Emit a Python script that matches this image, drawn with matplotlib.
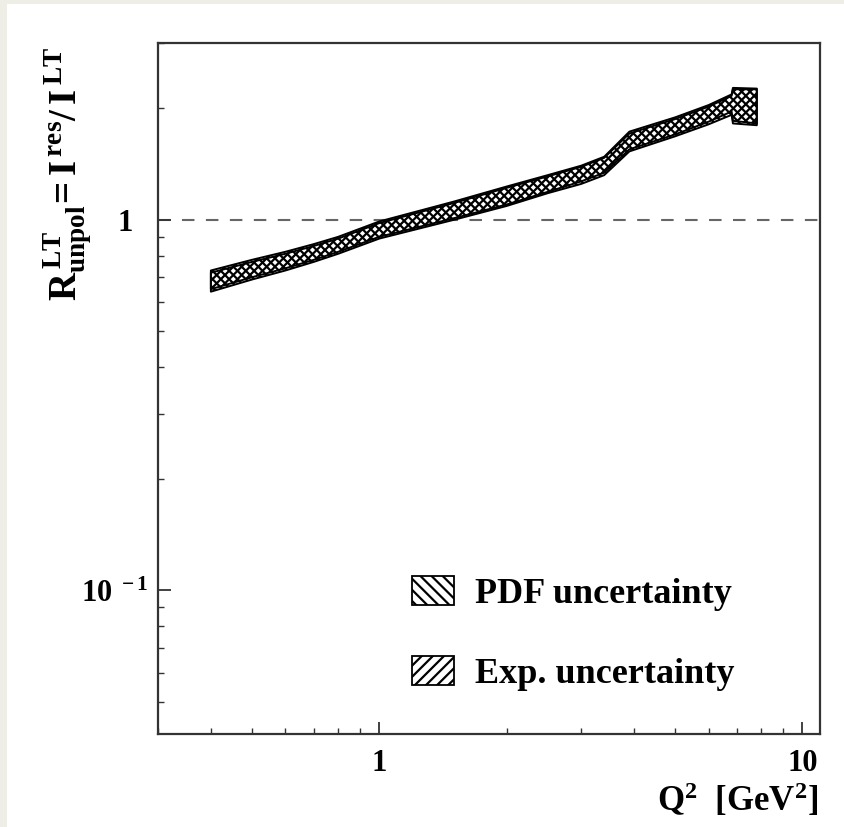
import matplotlib
matplotlib.use("Agg")
import matplotlib.pyplot as plt
from matplotlib.patches import Patch, Rectangle
from matplotlib.ticker import LogLocator, NullFormatter, FixedLocator, FixedFormatter

# data
q2 = [0.4, 0.5, 0.6, 0.7, 0.8, 1.0, 1.5, 2.0, 2.5, 3.0, 3.4, 3.9, 5.0, 6.0, 6.8, 6.85, 7.8]
pdf_lo = [0.64, 0.69, 0.73, 0.77, 0.81, 0.89, 1.00, 1.09, 1.18, 1.25, 1.32, 1.53, 1.68, 1.81, 1.92, 1.82, 1.80]
pdf_hi = [0.72, 0.77, 0.81, 0.85, 0.89, 0.98, 1.11, 1.22, 1.31, 1.39, 1.47, 1.71, 1.87, 2.02, 2.16, 2.25, 2.25]
exp_lo = [0.65, 0.70, 0.74, 0.78, 0.82, 0.90, 1.01, 1.10, 1.19, 1.27, 1.34, 1.55, 1.70, 1.84, 1.96, 1.85, 1.82]
exp_hi = [0.73, 0.78, 0.82, 0.86, 0.90, 0.99, 1.12, 1.23, 1.32, 1.40, 1.48, 1.73, 1.89, 2.04, 2.18, 2.27, 2.26]
labels = ["PDF uncertainty", "Exp. uncertainty"]

plt.rcParams["font.family"] = "Liberation Serif"
plt.rcParams["font.weight"] = "bold"
plt.rcParams["mathtext.fontset"] = "custom"
plt.rcParams["mathtext.rm"] = "Liberation Serif:bold"
plt.rcParams["mathtext.it"] = "Liberation Serif:bold"
plt.rcParams["mathtext.bf"] = "Liberation Serif:bold"
plt.rcParams["hatch.linewidth"] = 1.6

fig = plt.figure(figsize=(8.45, 8.27), dpi=100, facecolor="#efeee6")
fig.add_artist(Rectangle((7 / 845, 0), 1, 1 - 4 / 827, transform=fig.transFigure,
                         facecolor="white", edgecolor="none", zorder=-10))
ax = fig.add_axes([158 / 845, 1 - 734 / 827, 662 / 845, 691 / 827])
ax.set_xscale("log")
ax.set_yscale("log")
ax.set_xlim(0.3, 11)
ax.set_ylim(0.041, 3.0)

ax.axhline(1.0, color="#666666", lw=1.5, ls=(0, (6, 5.5)), zorder=1)

ax.fill_between(q2, pdf_lo, pdf_hi, facecolor="white", edgecolor="black",
                hatch="\\\\\\\\", lw=1.4, zorder=2)
ax.fill_between(q2, exp_lo, exp_hi, facecolor="none", edgecolor="black",
                hatch="////", lw=1.4, zorder=3)

for sp in ax.spines.values():
    sp.set_linewidth(1.6)
    sp.set_color("#333333")

ax.xaxis.set_major_locator(FixedLocator([1, 10]))
ax.xaxis.set_major_formatter(FixedFormatter(["1", "10"]))
ax.xaxis.set_minor_locator(LogLocator(base=10, subs=range(2, 10)))
ax.xaxis.set_minor_formatter(NullFormatter())
ax.yaxis.set_major_locator(FixedLocator([0.1, 1]))
ax.yaxis.set_major_formatter(FixedFormatter([r"$10^{\,\,-1}$", "1  "]))
ax.yaxis.set_minor_locator(LogLocator(base=10, subs=range(2, 10)))
ax.yaxis.set_minor_formatter(NullFormatter())
ax.tick_params(which="major", direction="in", length=9, width=1.3, labelsize=22, color="#333333")
ax.tick_params(which="minor", direction="in", length=4.5, width=1.0, color="#333333")
ax.tick_params(axis="x", pad=11)
ax.tick_params(axis="y", pad=7)

fig.text(818 / 845, 1 - 800 / 827, r"$\mathrm{Q}^{2}$  [GeV$^{2}$]", ha="right", va="center",
         fontsize=25, fontweight="bold")
fig.text(68 / 845, 1 - 174 / 827,
         r"$\mathrm{R}^{\,LT}_{unpol}\!=\mathrm{I}^{\,res}/\,\mathrm{I}^{\,LT}$",
         rotation=90, ha="center", va="center", fontsize=28)

handles = [Patch(facecolor="white", edgecolor="black", hatch="\\\\\\", lw=1.3),
           Patch(facecolor="white", edgecolor="black", hatch="///", lw=1.3)]
ax.legend(handles, labels, loc="upper left", bbox_to_anchor=(0.384, 0.228), frameon=False,
          prop={"family": "Liberation Serif", "weight": "bold", "size": 26},
          handlelength=1.15, handleheight=0.85, handletextpad=0.6, labelspacing=1.25,
          borderpad=0, borderaxespad=0)

fig.savefig("out.png", dpi=100, facecolor=fig.get_facecolor())
